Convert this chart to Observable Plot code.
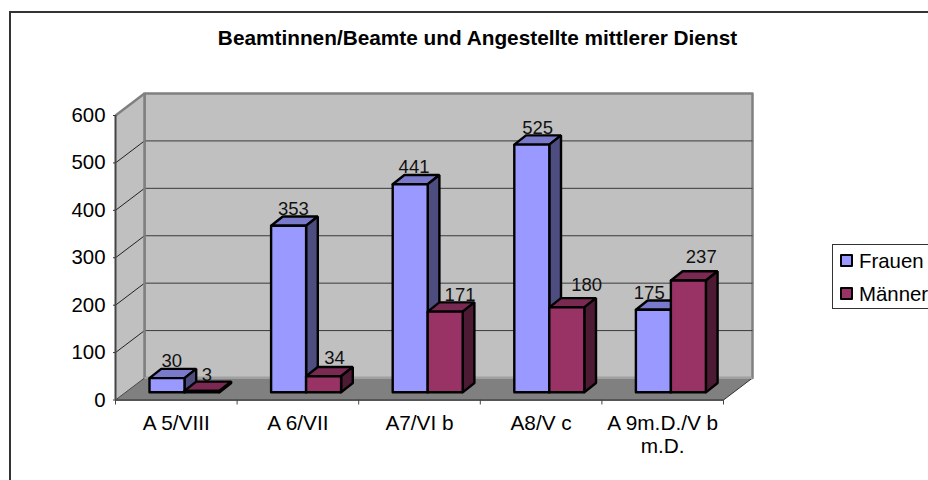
<!DOCTYPE html>
<html lang="de">
<head>
<meta charset="utf-8">
<script src="https://cdn.jsdelivr.net/npm/d3@7"></script>
<script src="https://cdn.jsdelivr.net/npm/@observablehq/plot@0.6"></script>
<style>
  html, body { margin: 0; padding: 0; background: #fff; overflow: hidden; }
  #stage { position: relative; width: 928px; height: 480px; overflow: hidden; font-family: "Liberation Sans", Arial, sans-serif; color: #000; }
  #stage svg { position: absolute; left: 0; top: 0; }
  #frame { position: absolute; left: 9px; top: 11px; width: 1200px; height: 800px; border: 2px solid #333; box-sizing: border-box; pointer-events: none; }
  #title { position: absolute; left: 0; width: 955px; top: 27px; text-align: center; font-weight: bold; font-size: 20.8px; line-height: 22px; white-space: nowrap; }
  #legend { position: absolute; left: 832px; top: 244px; width: 140px; height: 65px; border: 1px solid #333; box-sizing: border-box; background: #fff; }
  .row { position: absolute; left: 0; font-size: 20.4px; line-height: 22px; white-space: nowrap; }
  .row i { position: absolute; left: 7px; top: 4px; width: 13px; height: 13px; border: 2px solid #000; box-sizing: border-box; border-radius: 1px; }
  .row span { position: absolute; left: 26px; top: 0; }
</style>
</head>
<body>
<div id="stage">
  <div id="frame"></div>
  <div id="title"></div>
  <div id="legend"></div>
</div>
<script>
const chartTitle = "Beamtinnen/Beamte und Angestellte mittlerer Dienst";
const categories = ["A 5/VIII", "A 6/VII", "A7/VI b", "A8/V c", "A 9m.D./V b\nm.D."];
const seriesNames = ["Frauen", "Männer"];
const frauen = [30, 353, 441, 525, 175];
const maenner = [3, 34, 171, 180, 237];
const yTicks = [0, 100, 200, 300, 400, 500, 600];

const frontColors = ["#9999ff", "#993366"];
const topColors = ["#7a7acc", "#7a2952"];
const sideColors = ["#4d4d80", "#4d1a33"];

// pixel nudges of the data labels as Excel placed them
const frauenLabelNudge = [-1, -1, -2, 0, -10];
const maennerLabelNudge = [-1, 5, 9, 14, 7];
const maennerLabelRaise = [-1, 1, 0, 5, 6];

// layout
const W = 928, H = 480;
const left = 115, right = 723, top0 = 115, base = 399.5;
const pxCat = (right - left) / categories.length;
const pxVal = (base - top0) / 600;
const wallDx = 29 / pxCat, wallDy = 22 / pxVal;
const barOffset = 34 / pxCat, barWidth = 35 / pxCat;
const barDx = 11.7 / pxCat, barDy = 9.3 / pxVal, barLift = 16.2;
const perspective = 0.995;

const poly = (id, fill, pts) => [...pts, pts[0]].map(([x, y]) => ({id, fill, x, y}));

const faces = [];
const labels = [];
categories.forEach((c, i) => {
  [frauen, maenner].forEach((vals, s) => {
    const x0 = i + barOffset + s * barWidth, x1 = x0 + barWidth;
    const y0 = barLift, y1 = barLift + vals[i] * perspective;
    const id = `${i}-${s}`;
    faces.push(...poly(id + "t", topColors[s], [[x0, y1], [x1, y1], [x1 + barDx, y1 + barDy], [x0 + barDx, y1 + barDy]]));
    faces.push(...poly(id + "s", sideColors[s], [[x1, y0], [x1 + barDx, y0 + barDy], [x1 + barDx, y1 + barDy], [x1, y1]]));
    faces.push(...poly(id + "f", frontColors[s], [[x0, y0], [x1, y0], [x1, y1], [x0, y1]]));
    const nudge = (s ? maennerLabelNudge : frauenLabelNudge)[i] / pxCat;
    const raise = s ? maennerLabelRaise[i] / pxVal : 0;
    labels.push({x: (x0 + x1 + barDx) / 2 + nudge, y: y1 + raise, text: String(vals[i])});
  });
});

const n = categories.length;
const leftWall = poly("l", "#c0c0c0", [[0, 0], [wallDx, wallDy], [wallDx, 600 + wallDy], [0, 600]]);
const backWall = poly("b", "#c0c0c0", [[wallDx, wallDy], [n + wallDx, wallDy], [n + wallDx, 600 + wallDy], [wallDx, 600 + wallDy]]);
const floor = poly("f", "#808080", [[0, 0], [n, 0], [n + wallDx, wallDy], [wallDx, wallDy]]);

const plot = Plot.plot({
  width: W, height: H,
  marginLeft: left, marginRight: W - right, marginTop: top0, marginBottom: H - base,
  style: {fontFamily: '"Liberation Sans", Arial, sans-serif', background: "transparent"},
  x: {type: "linear", domain: [0, n]},
  y: {type: "linear", domain: [0, 600]},
  color: {type: "identity"},
  marks: [
    Plot.line(backWall, {x: "x", y: "y", z: "id", fill: "fill", stroke: "#808080", strokeWidth: 2.5}),
    Plot.line(leftWall, {x: "x", y: "y", z: "id", fill: "fill", stroke: "none"}),
    Plot.link(yTicks.slice(1, -1), {x1: wallDx, x2: n + wallDx, y1: d => d + wallDy, y2: d => d + wallDy, stroke: "#3a3a3a", strokeWidth: 1}),
    Plot.line(floor, {x: "x", y: "y", z: "id", fill: "fill", stroke: "none"}),
    Plot.link(yTicks.slice(1, -1), {x1: 0, x2: wallDx, y1: d => d, y2: d => d + wallDy, stroke: "#222", strokeWidth: 1}),
    Plot.link([0], {x1: 0, x2: wallDx, y1: 0, y2: wallDy, stroke: "#444", strokeWidth: 1}),
    Plot.link([0], {x1: n, x2: n + wallDx, y1: 0, y2: wallDy, stroke: "#333", strokeWidth: 1}),
    Plot.link([0], {x1: 0, x2: wallDx, y1: 600, y2: 600 + wallDy, stroke: "#808080", strokeWidth: 2.5}),
    Plot.link([0], {x1: wallDx, x2: wallDx, y1: 0 + wallDy, y2: 600 + wallDy, stroke: "#808080", strokeWidth: 2.5}),
    Plot.link([0], {x1: wallDx, x2: n + wallDx, y1: wallDy, y2: wallDy, stroke: "#a0a0a0", strokeWidth: 2}),
    Plot.ruleY([0], {x1: 0, x2: n, stroke: "#555", strokeWidth: 2}),
    Plot.ruleX([0], {y1: 0, y2: 600, stroke: "#444", strokeWidth: 2}),
    Plot.line(faces, {x: "x", y: "y", z: "id", fill: "fill", stroke: "#000", strokeWidth: 2.4, strokeLinejoin: "miter"}),
    Plot.text(labels, {x: "x", y: "y", text: "text", dy: -17, fontSize: 18.5, fill: "#111"}),
    Plot.axisY({ticks: yTicks, tickSize: 2, tickPadding: 8, fontSize: 20.4, label: null, stroke: "#333"}),
    Plot.axisX({ticks: d3.range(n + 1), tickSize: 5, tickFormat: () => "", label: null, stroke: "#444"}),
    Plot.axisX({
      ticks: categories.map((_, i) => i + 0.5), tickSize: 0, tickPadding: 14, fontSize: 20.8, lineHeight: 1.1,
      tickFormat: d => categories[d - 0.5], label: null
    })
  ]
});
document.getElementById("stage").prepend(plot);

document.getElementById("title").textContent = chartTitle;
const legend = document.getElementById("legend");
seriesNames.forEach((name, i) => {
  const row = document.createElement("div");
  row.className = "row";
  row.style.top = (5 + i * 33) + "px";
  const sw = document.createElement("i");
  sw.style.background = frontColors[i];
  const t = document.createElement("span");
  t.textContent = name;
  row.append(sw, t);
  legend.append(row);
});
</script>
</body>
</html>
